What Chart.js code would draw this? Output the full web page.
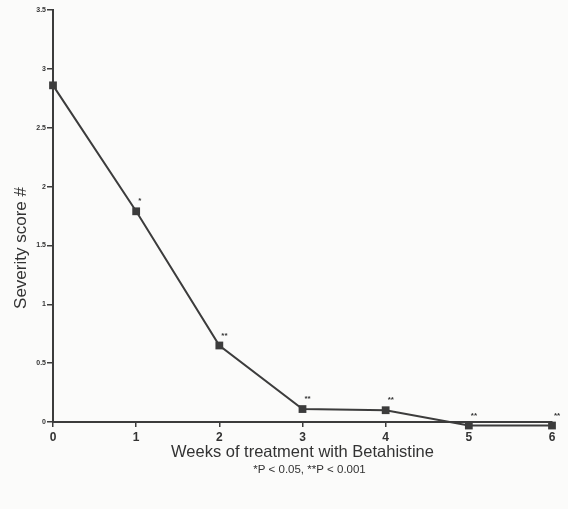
<!DOCTYPE html>
<html>
<head>
<meta charset="utf-8">
<script src="https://cdn.jsdelivr.net/npm/chart.js@4/dist/chart.umd.min.js"></script>
<style>
  html, body { margin: 0; padding: 0; background: #fbfbfa; }
  #wrap { width: 568px; height: 509px; }
</style>
</head>
<body>
<div id="wrap"><canvas id="grafico"></canvas></div>
<script>
const semanas = [0, 1, 2, 3, 4, 5, 6];
const gravidade = [2.86, 1.79, 0.65, 0.11, 0.10, -0.03, -0.03];
const marcas = ["", "*", "**", "**", "**", "**", "**"];
const yTicks = [0, 0.5, 1, 1.5, 2, 2.5, 3, 3.5];

const corLinha = "#3c3c3c";

// textos extras: asteriscos, titulo do eixo y e nota de rodape
const textosExtras = {
    id: "textosExtras",
    afterDatasetsDraw(chart) {
        const ctx = chart.ctx;
        const area = chart.chartArea;
        const meta = chart.getDatasetMeta(0);
        ctx.save();
        ctx.fillStyle = "#333";
        ctx.font = "bold 8px 'Liberation Sans'";
        ctx.textAlign = "left";
        ctx.textBaseline = "middle";
        meta.data.forEach((pt, i) => {
            if (marcas[i]) ctx.fillText(marcas[i], pt.x + 2, pt.y - 10);
        });

        ctx.font = "17px 'Liberation Sans'";
        ctx.textAlign = "center";
        ctx.translate(21, (area.top + area.bottom) / 2 + 32);
        ctx.rotate(-Math.PI / 2);
        ctx.fillText("Severity score #", 0, 0);
        ctx.restore();

        ctx.save();
        ctx.fillStyle = "#333";
        ctx.font = "11.5px 'Liberation Sans'";
        ctx.textAlign = "center";
        ctx.textBaseline = "middle";
        ctx.fillText("*P < 0.05, **P < 0.001", (area.left + area.right) / 2 + 7, area.bottom + 48);
        ctx.restore();
    }
};

new Chart(document.getElementById("grafico"), {
    type: "line",
    data: {
        datasets: [{
            data: semanas.map((s, i) => ({ x: s, y: gravidade[i] })),
            borderColor: corLinha,
            borderWidth: 2,
            backgroundColor: corLinha,
            pointStyle: "rect",
            pointRadius: 5.5,
            pointBorderWidth: 0,
            tension: 0,
            clip: false
        }]
    },
    options: {
        responsive: true,
        maintainAspectRatio: false,
        animation: false,
        layout: { padding: { top: 10, right: 16, left: 0, bottom: 0 } },
        plugins: {
            legend: { display: false },
            tooltip: { enabled: false }
        },
        scales: {
            x: {
                type: "linear",
                min: 0,
                max: 6,
                afterFit: (s) => { s.height = 87; },
                ticks: {
                    stepSize: 1,
                    color: "#333",
                    padding: 3,
                    font: { family: "'Liberation Sans Narrow', 'Liberation Sans'", size: 12, weight: "bold" }
                },
                grid: { drawOnChartArea: false, drawTicks: true, tickLength: 5, color: corLinha, lineWidth: 1.5 },
                border: { display: true, color: corLinha, width: 2 },
                title: {
                    display: true,
                    text: "Weeks of treatment with Betahistine",
                    color: "#333",
                    font: { family: "'Liberation Sans'", size: 16.5 },
                    padding: { top: 0, bottom: 47 }
                }
            },
            y: {
                min: 0,
                max: 3.5,
                afterFit: (s) => { s.width = 53; },
                afterBuildTicks: (s) => { s.ticks = yTicks.map(v => ({ value: v })); },
                ticks: {
                    color: "#333",
                    padding: 1,
                    callback: (v) => String(v),
                    font: { family: "'Liberation Sans'", size: 7, weight: "bold" }
                },
                grid: { drawOnChartArea: false, drawTicks: true, tickLength: 6, color: corLinha, lineWidth: 1.5 },
                border: { display: true, color: corLinha, width: 2 }
            }
        }
    },
    plugins: [textosExtras]
});
</script>
</body>
</html>
